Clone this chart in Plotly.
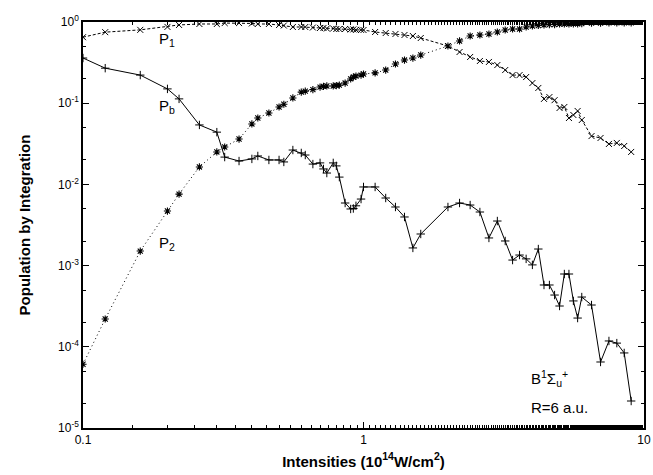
import plotly.graph_objects as go

intensity = [0.1, 0.12, 0.16, 0.2, 0.22, 0.26, 0.3, 0.32, 0.36, 0.4, 0.42, 0.46, 0.5, 0.52,
             0.56, 0.6, 0.62, 0.66, 0.7, 0.72, 0.74, 0.78, 0.8, 0.82, 0.86, 0.9, 0.92, 0.94,
             0.98, 1.0, 1.1, 1.2, 1.3, 1.4, 1.5, 1.6, 2.0, 2.2, 2.4, 2.6, 2.8, 3.0, 3.2, 3.4,
             3.6, 3.8, 4.0, 4.2, 4.4, 4.6, 4.8, 5.0, 5.2, 5.4, 5.6, 5.8, 6.0, 6.5, 7.0, 7.5,
             8.0, 8.5, 9.0]

p1 = [0.65, 0.75, 0.80, 0.87, 0.92, 0.945, 0.945, 0.97, 0.97, 0.96, 0.945, 0.945, 0.918, 0.905,
      0.868, 0.868, 0.868, 0.855, 0.844, 0.844, 0.832, 0.832, 0.82, 0.82, 0.82, 0.81, 0.81, 0.80,
      0.80, 0.797, 0.753, 0.732, 0.712, 0.692, 0.672, 0.635, 0.506, 0.427, 0.371, 0.331, 0.322,
      0.295, 0.256, 0.222, 0.222, 0.210, 0.177, 0.154, 0.113, 0.119, 0.109, 0.0873, 0.0898,
      0.0657, 0.0716, 0.0802, 0.0621, 0.0394, 0.0373, 0.0315, 0.0324, 0.0297, 0.0251]

p2 = [6.1e-5, 2.2e-4, 1.51e-3, 4.7e-3, 7.6e-3, 0.0164, 0.0251, 0.0289, 0.0362, 0.0555, 0.0657,
      0.0757, 0.0898, 0.097, 0.116, 0.137, 0.141, 0.147, 0.158, 0.161, 0.163, 0.163, 0.165,
      0.167, 0.177, 0.199, 0.210, 0.216, 0.222, 0.229, 0.236, 0.256, 0.304, 0.340, 0.360, 0.392,
      0.506, 0.584, 0.672, 0.692, 0.712, 0.753, 0.797, 0.82, 0.82, 0.868, 0.893, 0.905, 0.918,
      0.93, 0.93, 0.945, 0.945, 0.945, 0.95, 0.95, 0.955, 0.97, 0.97, 0.975, 0.975, 0.975, 0.975]

pb = [0.36, 0.27, 0.222, 0.15, 0.113, 0.054, 0.044, 0.0217, 0.0194, 0.0206, 0.0224, 0.020,
      0.020, 0.0189, 0.0265, 0.0244, 0.023, 0.0178, 0.0184, 0.0155, 0.0138, 0.0184, 0.0169,
      0.0123, 0.0059, 0.00498, 0.00505, 0.00545, 0.0066, 0.0093, 0.0093, 0.0068, 0.00527,
      0.00397, 0.00165, 0.00245, 0.00527, 0.0059, 0.00557, 0.00457, 0.00219, 0.00354, 0.00201,
      0.00117, 0.00135, 0.00121, 0.00102, 0.0016, 0.000577, 0.000577, 0.000434, 0.000318,
      0.000788, 0.000788, 0.000367, 0.000226, 0.00041, 0.000327, 6.5e-5, 1.18e-4, 1.11e-4,
      8.4e-5, 2.15e-5]

y_tickvals = [1e-5, 1e-4, 1e-3, 1e-2, 1e-1, 1]
y_ticktext = ["10<sup>-5</sup>", "10<sup>-4</sup>", "10<sup>-3</sup>", "10<sup>-2</sup>",
              "10<sup>-1</sup>", "10<sup>0</sup>"]
x_tickvals = [0.1, 1, 10]
x_ticktext = ["0.1", "1", "10"]

FONT = "Liberation Sans, Arial, sans-serif"

fig = go.Figure()
fig.add_trace(go.Scatter(x=intensity, y=p1, mode="lines+markers", name="P1",
                         line=dict(color="black", width=1, dash="3px,2px"),
                         marker=dict(symbol="x-thin-open", size=6, color="black",
                                     line=dict(width=1, color="black"))))
fig.add_trace(go.Scatter(x=intensity, y=p2, mode="lines+markers", name="P2",
                         line=dict(color="black", width=1, dash="1px,3px"),
                         marker=dict(symbol="asterisk-open", size=6, color="black",
                                     line=dict(width=1.1, color="black"))))
fig.add_trace(go.Scatter(x=intensity, y=pb, mode="lines+markers", name="Pb",
                         line=dict(color="black", width=1),
                         marker=dict(symbol="cross-thin-open", size=6, color="black",
                                     line=dict(width=1, color="black"))))

ann = dict(showarrow=False, font=dict(family=FONT, size=15, color="black"),
           xref="paper", yref="paper")
fig.add_annotation(text="P<sub>1</sub>", x=0.132, y=0.985, **ann)
fig.add_annotation(text="P<sub>b</sub>", x=0.132, y=0.82, **ann)
fig.add_annotation(text="P<sub>2</sub>", x=0.132, y=0.455, **ann)
fig.add_annotation(text="B<sup>1</sup>Σ<sub>u</sub><sup>+</sup>", x=0.795, y=0.09,
                   xanchor="left", **ann)
fig.add_annotation(text="R=6 a.u.", x=0.795, y=0.025, xanchor="left", **ann)

fig.update_layout(
    width=653, height=475,
    margin=dict(l=83, r=9, t=22, b=47, autoexpand=False),
    paper_bgcolor="white", plot_bgcolor="white",
    showlegend=False,
    font=dict(family=FONT, size=12, color="black"),
)
fig.update_xaxes(type="log", range=[-1, 1], tickvals=x_tickvals, ticktext=x_ticktext,
                 ticks="inside", ticklen=6, tickwidth=1, tickcolor="black",
                 showline=True, linecolor="black", linewidth=1.5, mirror="allticks",
                 showgrid=False, zeroline=False, automargin=False,
                 minor=dict(ticks="inside", ticklen=3, tickcolor="black", showgrid=False),
                 tickfont=dict(family=FONT, size=12),
                 title=dict(text="<b>Intensities (10<sup>14</sup>W/cm<sup>2</sup>)</b>",
                            font=dict(family=FONT, size=15), standoff=10))
fig.update_yaxes(type="log", range=[-5, 0], tickvals=y_tickvals, ticktext=y_ticktext,
                 ticks="inside", ticklen=6, tickwidth=1, tickcolor="black",
                 showline=True, linecolor="black", linewidth=1.5, mirror="allticks",
                 showgrid=False, zeroline=False, automargin=False,
                 minor=dict(ticks="inside", ticklen=3, tickcolor="black", showgrid=False),
                 tickfont=dict(family=FONT, size=12),
                 title=dict(text="<b>Population by Integration</b>",
                            font=dict(family=FONT, size=15), standoff=24))

fig.write_html("out.html")
